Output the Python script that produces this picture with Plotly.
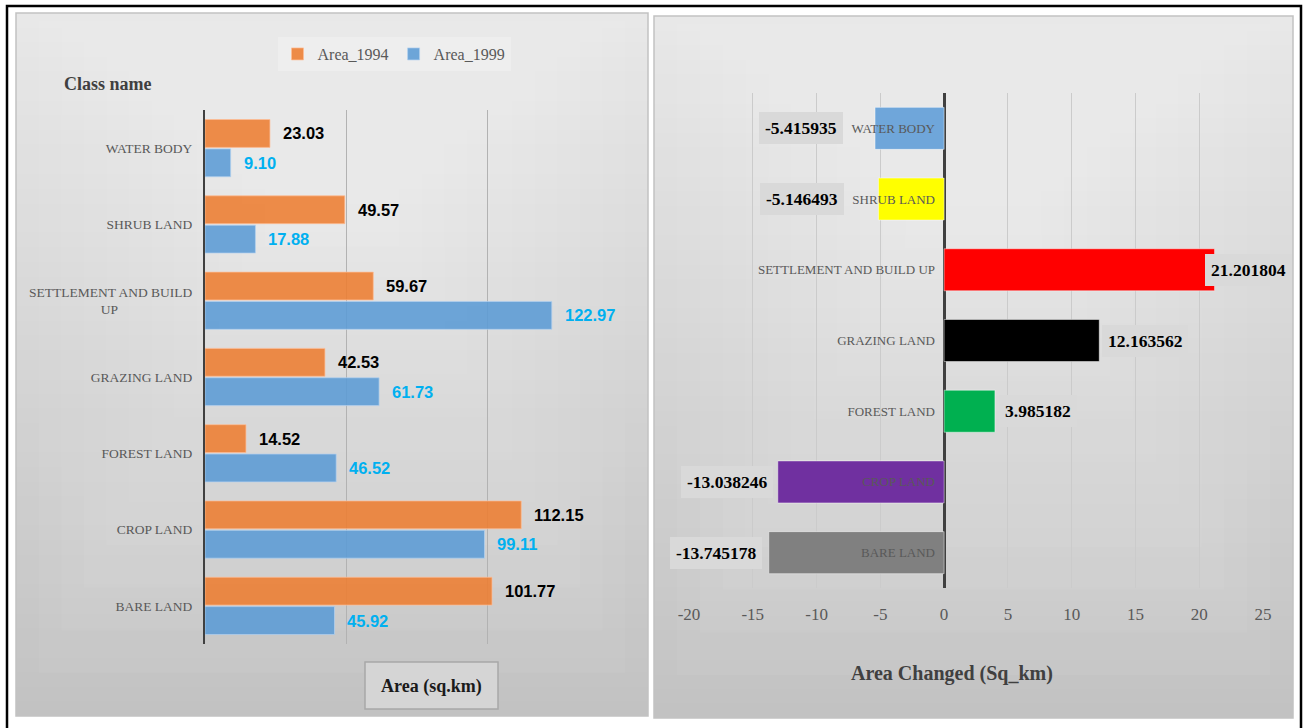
import plotly.graph_objects as go

# ---------------- data ----------------
classes = ["WATER BODY", "SHRUB LAND", "SETTLEMENT AND BUILD UP", "GRAZING LAND",
           "FOREST LAND", "CROP LAND", "BARE LAND"]
area_1994 = [23.03, 49.57, 59.67, 42.53, 14.52, 112.15, 101.77]
area_1999 = [9.10, 17.88, 122.97, 61.73, 46.52, 99.11, 45.92]
area_changed = [-5.415935, -5.146493, 21.201804, 12.163562, 3.985182, -13.038246, -13.745178]
change_ticks = [-20, -15, -10, -5, 0, 5, 10, 15, 20, 25]
area_ticks = [0, 50, 100, 150]

# ---------------- styling ----------------
W, H = 1304, 728
SERIF = "Liberation Serif, Times New Roman, serif"
SANS = "Liberation Sans, Arial, sans-serif"
LABEL_GRAY = "#595959"
TITLE_GRAY = "#404040"
change_colors = ["#6FA6DA", "#FFFF00", "#FF0000", "#000000", "#00B050", "#7030A0", "#808080"]
# horizontal nudge (px) of each change label box away from its bar end
change_label_shift = [-32, -34, -10, 3, 4, -5, -7]

# left-chart tick text: wrap the long class name over two centred lines
left_ticktext = [c if c != "SETTLEMENT AND BUILD UP"
                 else "SETTLEMENT AND BUILD<br>UP" + "\u00a0" * 22 for c in classes]


def fx(px):
    return px / W


def fy(py):
    return 1 - py / H


shapes = []


def panel_background(x0, y0, x1, y1, top_gray, bottom_gray, glow_y):
    n = 48
    for k in range(n):
        ya = y0 + (y1 - y0) * k / n
        yb = min(y1, y0 + (y1 - y0) * (k + 1) / n + 1)
        g = round(top_gray + (bottom_gray - top_gray) * (k + 0.5) / n)
        shapes.append(dict(type="rect", xref="paper", yref="paper", layer="below",
                           x0=fx(x0), x1=fx(x1), y0=fy(yb), y1=fy(ya),
                           fillcolor=f"rgb({g},{g},{g})", line_width=0))
    cx, cy = (x0 + x1) / 2, glow_y
    m = 14
    for k in range(1, m):
        s = 1 - k / m
        shapes.append(dict(type="rect", xref="paper", yref="paper", layer="below",
                           x0=fx(cx - (cx - x0) * s), x1=fx(cx + (x1 - cx) * s),
                           y0=fy(cy + (y1 - cy) * s), y1=fy(cy - (cy - y0) * s),
                           fillcolor="rgba(255,255,255,0.045)", line_width=0))
    shapes.append(dict(type="rect", xref="paper", yref="paper", layer="below",
                       x0=fx(x0), x1=fx(x1), y0=fy(y1), y1=fy(y0),
                       line=dict(color="#c2c2c2", width=1.5)))


panel_background(16, 13, 648, 716, 232, 194, 118)
panel_background(654, 16, 1293, 718, 232, 194, 120)

# outer black frame
shapes.append(dict(type="rect", xref="paper", yref="paper", layer="above",
                   x0=fx(7), x1=fx(1301), y0=-0.05, y1=fy(6),
                   line=dict(color="black", width=2.5)))
# box round the left axis title
shapes.append(dict(type="rect", xref="paper", yref="paper", layer="below",
                   x0=fx(365), x1=fx(498), y0=fy(709), y1=fy(662),
                   fillcolor="#d5d5d5", line=dict(color="#a8a8a8", width=1.5)))

fig = go.Figure()

# ---------------- left chart: areas per class ----------------
fig.add_trace(go.Bar(
    name="Area_1994", y=classes, x=area_1994, orientation="h",
    xaxis="x", yaxis="y", width=0.365, offset=-0.375,
    marker=dict(color="rgba(237,125,49,0.88)", line=dict(color="rgba(255,190,150,0.7)", width=1)),
    hoverinfo="x+y",
))
fig.add_trace(go.Bar(
    name="Area_1999", y=classes, x=area_1999, orientation="h",
    xaxis="x", yaxis="y", width=0.365, offset=0.01,
    marker=dict(color="rgba(91,155,213,0.88)", line=dict(color="rgba(180,210,240,0.7)", width=1)),
    hoverinfo="x+y",
))

# ---------------- right chart: area changed ----------------
fig.add_trace(go.Bar(
    y=classes, x=area_changed, orientation="h", xaxis="x2", yaxis="y2",
    width=0.594, showlegend=False,
    marker=dict(color=change_colors, line=dict(color="rgba(255,255,255,0.45)", width=1)),
    hoverinfo="x+y",
))

annotations = []
for i, v in enumerate(area_1994):
    annotations.append(dict(x=v, y=i - 0.1925, xref="x", yref="y", text=f"{v:.2f}",
                            xanchor="left", yanchor="middle", xshift=11, showarrow=False,
                            font=dict(family=SANS, size=16.5, color="black", weight="bold")))
for i, v in enumerate(area_1999):
    annotations.append(dict(x=v, y=i + 0.1925, xref="x", yref="y", text=f"{v:.2f}",
                            xanchor="left", yanchor="middle", xshift=11, showarrow=False,
                            font=dict(family=SANS, size=16.5, color="#00B0F0", weight="bold")))
for i, v in enumerate(area_changed):
    annotations.append(dict(x=v, y=classes[i], xref="x2", yref="y2", text=f"{v:.6f}",
                            xanchor="right" if v < 0 else "left", yanchor="middle",
                            xshift=change_label_shift[i], showarrow=False,
                            bgcolor="#d9d9d9", borderpad=6, borderwidth=0,
                            font=dict(family=SERIF, size=17.5, color="black", weight="bold")))

# axis titles
annotations.append(dict(x=fx(108), y=fy(84), xref="paper", yref="paper", text="Class name",
                        showarrow=False, xanchor="center", yanchor="middle",
                        font=dict(family=SERIF, size=18, color=TITLE_GRAY, weight="bold")))
annotations.append(dict(x=fx(431.5), y=fy(686), xref="paper", yref="paper", text="Area (sq.km)",
                        showarrow=False, xanchor="center", yanchor="middle",
                        font=dict(family=SERIF, size=18, color="#1a1a1a", weight="bold")))
annotations.append(dict(x=fx(952), y=fy(673), xref="paper", yref="paper",
                        text="Area Changed (Sq_km)", showarrow=False,
                        xanchor="center", yanchor="middle",
                        font=dict(family=SERIF, size=20, color=TITLE_GRAY, weight="bold")))

fig.update_layout(
    width=W, height=H,
    margin=dict(l=0, r=0, t=0, b=0, autoexpand=False),
    paper_bgcolor="white",
    plot_bgcolor="rgba(0,0,0,0)",
    barmode="overlay",
    showlegend=True,
    legend=dict(orientation="h", x=fx(394), xanchor="center", y=fy(54), yanchor="middle",
                font=dict(family=SERIF, size=16, color=LABEL_GRAY),
                bgcolor="rgba(255,255,255,0.25)", itemwidth=30, traceorder="normal",
                tracegroupgap=0),
    xaxis=dict(domain=[fx(205), fx(628)], range=[0, 150], anchor="y",
               tickvals=area_ticks, showticklabels=False, ticks="", automargin=False,
               showgrid=True, gridcolor="#b2b2b2", gridwidth=1,
               zeroline=False, showline=False, fixedrange=True),
    yaxis=dict(domain=[fy(644), fy(110)], anchor="x", type="category",
               categoryorder="array", categoryarray=classes, range=[6.5, -0.5],
               tickvals=classes, ticktext=left_ticktext, ticks="", automargin=False,
               ticklabelstandoff=8,
               tickfont=dict(family=SERIF, size=13.5, color=LABEL_GRAY),
               showline=True, linecolor="#404040", linewidth=2,
               showgrid=False, zeroline=False, fixedrange=True),
    xaxis2=dict(domain=[fx(689), fx(1263)], range=[-20, 25], anchor="y2",
                tickvals=change_ticks, ticktext=[str(t) for t in change_ticks],
                ticks="", ticklabelstandoff=14, automargin=False,
                tickfont=dict(family=SERIF, size=17, color=LABEL_GRAY),
                showgrid=True, gridcolor="#cbcbcb", gridwidth=1,
                zeroline=True, zerolinecolor="#404040", zerolinewidth=2.5,
                showline=False, fixedrange=True),
    yaxis2=dict(domain=[fy(588), fy(93)], anchor="free", position=fx(944),
                type="category", categoryorder="array", categoryarray=classes,
                range=[6.5, -0.5], ticks="", ticklabelstandoff=9, automargin=False,
                tickfont=dict(family=SERIF, size=13, color=LABEL_GRAY),
                showline=False, showgrid=False, zeroline=False, fixedrange=True),
    shapes=shapes,
    annotations=annotations,
)

fig.write_html("out.html")
